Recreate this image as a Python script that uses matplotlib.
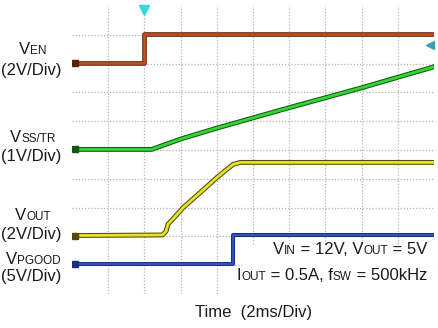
import matplotlib
matplotlib.use("Agg")
import matplotlib.pyplot as plt
from matplotlib.offsetbox import TextArea, HPacker, AnnotationBbox

plt.rcParams['font.family'] = ['Liberation Sans', 'DejaVu Sans']

# scope traces, in screen divisions (10 x 10 grid, y=0 at bottom)
t_en = [0.0, 2.0, 2.0, 10.0]
v_en = [8.03, 8.03, 9.03, 9.03]

t_ss = [0.0, 2.2, 3.0, 4.0, 6.0, 8.0, 10.0]
v_ss = [5.02, 5.02, 5.38, 5.76, 6.47, 7.16, 7.89]

t_out = [0.0, 2.5, 2.6, 2.65, 2.85, 3.07, 3.54, 4.0, 4.28, 4.45, 4.65, 10.0]
v_out = [2.03, 2.05, 2.18, 2.42, 2.69, 3.0, 3.52, 4.04, 4.33, 4.5, 4.57, 4.57]

t_pg = [0.0, 4.45, 4.45, 10.0]
v_pg = [1.04, 1.04, 2.04, 2.04]

# left-hand labels: (big letter, small caps part, volts/div, y of name, y of scale) in pixels from top
labels = [("V", "EN", "(2V/Div)", 50, 70),
          ("V", "SS/TR", "(1V/Div)", 138, 156),
          ("V", "OUT", "(2V/Div)", 216, 235),
          ("V", "PGOOD", "(5V/Div)", 259, 277)]

W, H = 438, 328
fig = plt.figure(figsize=(W / 100, H / 100), dpi=100)
ax = fig.add_axes([72 / W, (H - 294) / H, 362 / W, 288 / H])
ax.set_xlim(0, 10)
ax.set_ylim(0, 10)
ax.axis('off')

for k in range(1, 10):
    ax.axvline(k, color='#b4b4b4', lw=0.9, ls=(0, (1, 1.5)), zorder=0)
    ax.axhline(k, color='#b4b4b4', lw=0.9, ls=(0, (1, 1.5)), zorder=0)

def trace(t, v, core, edge, w):
    ax.plot(t, v, color=edge, lw=w + 1.5, solid_joinstyle='round', zorder=3)
    ax.plot(t, v, color=core, lw=w, solid_joinstyle='round', zorder=4)
    ax.plot(t[0] + 0.08, v[0], marker='s', ms=5, color=edge, zorder=5)

trace(t_en, v_en, '#c2521f', '#5c2208', 1.8)
trace(t_ss, v_ss, '#33d633', '#0f5a10', 2.0)
trace(t_out, v_out, '#e6e22a', '#4f4c05', 2.0)
trace(t_pg, v_pg, '#2f55c4', '#1c2f7a', 1.4)

# trigger position and trigger level markers
ax.plot(2.0, 9.85, marker='v', ms=7, color='#34d6e6', zorder=5, clip_on=False)
ax.plot(9.9, 8.65, marker='<', ms=6, color='#3aa0b0', zorder=5, clip_on=False)

def mixed(parts, xy, align=(0.5, 0.5)):
    areas = [TextArea(s, textprops=dict(size=sz, color='#1a1a1a')) for s, sz in parts]
    box = HPacker(children=areas, align="baseline", pad=0, sep=0)
    ab = AnnotationBbox(box, xy, xycoords='figure pixels', box_alignment=align,
                        frameon=False, zorder=6)
    fig.add_artist(ab)
    return ab

big, small = 12, 8.5
for v, sub, scale, y1, y2 in labels:
    mixed([(v, big), (sub, small)], (33, H - y1))
    fig.text(31 / W, 1 - y2 / H, scale, size=big, color='#1a1a1a', ha='center', va='center')

# test conditions, on a white patch over the grid
ax.add_patch(plt.Rectangle((4.7, 0.05), 5.25, 1.6, color='white', zorder=2))
mixed([("V", big), ("IN", small), (" = 12V, V", big), ("OUT", small), (" = 5V", big)],
      (427, H - 250), align=(1.0, 0.5))
mixed([("I", big), ("OUT", small), (" = 0.5A, f", big), ("SW", small), (" = 500kHz", big)],
      (427, H - 276), align=(1.0, 0.5))

fig.text(254 / W, 1 - 312 / H, "Time  (2ms/Div)", size=big, color='#1a1a1a',
         ha='center', va='center')

fig.savefig("out.png", dpi=100)
